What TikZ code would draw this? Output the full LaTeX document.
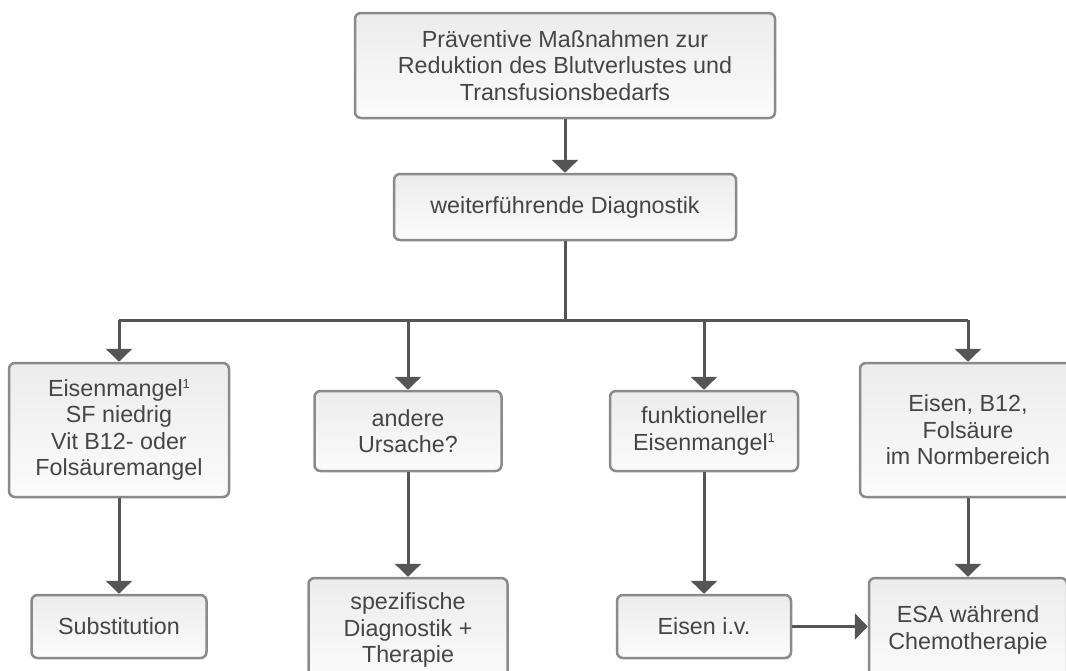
\documentclass[tikz,border=0pt]{standalone}
\usepackage{fontspec}
\setmainfont{Liberation Sans}
\usetikzlibrary{arrows.meta}
\definecolor{boxline}{HTML}{8A8A8A}
\definecolor{arrowgray}{HTML}{555555}
\definecolor{textgray}{HTML}{454545}
\definecolor{boxtop}{HTML}{ECECEC}
\definecolor{boxbottom}{HTML}{FBFBFB}
\tikzset{
  box/.style={draw=boxline, line width=2.5pt, rounded corners=6pt,
    top color=boxtop, bottom color=boxbottom, text=textgray,
    align=center, inner sep=0pt,
    font=\fontsize{23.3}{26.5}\selectfont},
  conn/.style={draw=arrowgray, line width=3pt},
  arr/.style={conn, -{Triangle[width=26pt,length=13pt]}},
}
\newcommand{\fn}{\raisebox{0.35em}{\fontsize{13}{13}\selectfont 1}}
\begin{document}
\begin{tikzpicture}[x=1pt,y=-1pt]
\useasboundingbox (0,0) rectangle (1066,670);
% top of the chart
\node[box, minimum width=420pt, minimum height=105pt] (praev) at (565,65.5)
  {Präventive Maßnahmen zur\\Reduktion des Blutverlustes und\\Transfusionsbedarfs};
\node[box, minimum width=342pt, minimum height=66pt] (diag) at (565,207)
  {weiterführende Diagnostik};
% four findings
\node[box, minimum width=220pt, minimum height=134pt] (mangel) at (119,430)
  {Eisenmangel\fn\\SF niedrig\\Vit B12- oder\\Folsäuremangel};
\node[box, minimum width=187pt, minimum height=80pt] (ursache) at (408,431)
  {andere\\Ursache?};
\node[box, minimum width=188pt, minimum height=80pt] (funkt) at (704,431)
  {funktioneller\\Eisenmangel\fn};
\node[box, minimum width=216pt, minimum height=134pt] (norm) at (968,430)
  {Eisen, B12,\\Folsäure\\im Normbereich};
% therapies
\node[box, minimum width=175pt, minimum height=63pt] (subst) at (119,626.5)
  {Substitution};
\node[box, minimum width=199pt, minimum height=104pt] (spez) at (408,630)
  {spezifische\\Diagnostik +\\Therapie};
\node[box, minimum width=174pt, minimum height=63pt] (eisen) at (704,626.5)
  {Eisen i.v.};
\node[box, minimum width=198pt, minimum height=104pt] (esa) at (968,630)
  {ESA während\\Chemotherapie};
% connectors
\coordinate (split) at (565,320);
\draw[arr] (praev) -- (diag);
\draw[conn] (diag.south) -- (split);
\draw[conn] (mangel.north |- split) -- (norm.north |- split);
\foreach \n in {mangel,ursache,funkt,norm}
  \draw[arr] (\n.north |- split) -- (\n.north);
\draw[arr] (mangel) -- (subst);
\draw[arr] (ursache) -- (spez);
\draw[arr] (funkt) -- (eisen);
\draw[arr] (norm) -- (esa);
\draw[arr] (eisen) -- (eisen -| esa.west);
\end{tikzpicture}
\end{document}
